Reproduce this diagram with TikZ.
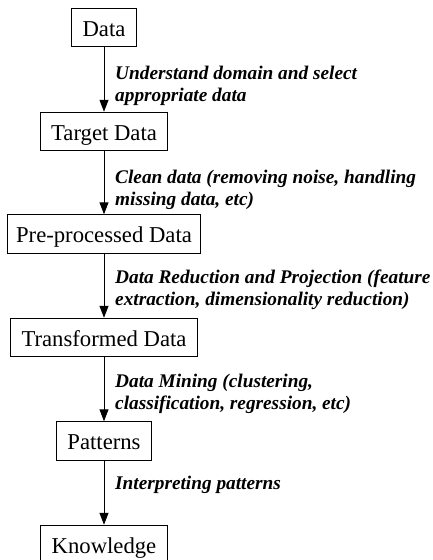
\documentclass[tikz,border=0pt]{standalone}
\usepackage{fontspec}
\setmainfont{Liberation Serif}
\usetikzlibrary{arrows.meta}
\begin{document}
\begin{tikzpicture}[x=1pt,y=-1pt,
  box/.style={draw,line width=1pt,inner xsep=11pt,inner ysep=0pt,
    text height=28.2pt,text depth=10.3pt,font=\fontsize{22.7}{27}\selectfont},
  lbl/.style={anchor=base west,inner sep=0pt,font=\fontsize{19.3}{22.5}\selectfont\bfseries\itshape},
  conn/.style={line width=1pt,-{Triangle[length=12pt,width=9pt]}}]
\useasboundingbox (0,0) rectangle (432,560);
\clip (0,0) rectangle (432,560);
\node[box] (data) at (104,27.5) {Data};
\node[box] (target) at (104,131.5) {Target Data};
\node[box,inner xsep=8.5pt] (pre) at (104,234) {Pre-processed Data};
\node[box] (trans) at (104,337.5) {Transformed Data};
\node[box] (pat) at (104,441) {Patterns};
\node[box] (know) at (104,544.5) {Knowledge};
\draw[conn] (data) -- (target);
\draw[conn] (target) -- (pre);
\draw[conn] (pre) -- (trans);
\draw[conn] (trans) -- (pat);
\draw[conn] (pat) -- (know);
\node[lbl] (l1) at (115,79) {\begin{tabular}[t]{@{}l@{}}Understand domain and select\\appropriate data\end{tabular}};
\node[lbl] (l2) at (115,183) {\begin{tabular}[t]{@{}l@{}}Clean data (removing noise, handling\\missing data, etc)\end{tabular}};
\node[lbl] (l3) at (115,283) {\begin{tabular}[t]{@{}l@{}}Data Reduction and Projection (feature\\extraction, dimensionality reduction)\end{tabular}};
\node[lbl] (l4) at (115,387) {\begin{tabular}[t]{@{}l@{}}Data Mining (clustering,\\classification, regression, etc)\end{tabular}};
\node[lbl] (l5) at (115,489) {Interpreting patterns};
\end{tikzpicture}
\end{document}
